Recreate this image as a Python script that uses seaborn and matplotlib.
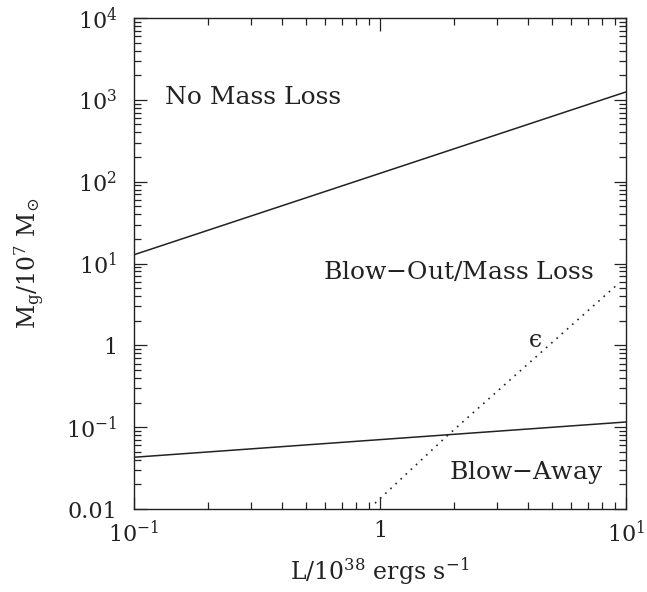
import numpy as np
import pandas as pd
import matplotlib
matplotlib.use("Agg")
import matplotlib.pyplot as plt
import matplotlib.ticker as mticker
import seaborn as sns

# Boundary curves in the luminosity / gas-mass plane
lum_upper = [0.1, 10.0]
mass_upper = [12.8, 1250.0]          # no mass loss / blow-out boundary

lum_lower = [0.1, 10.0]
mass_lower = [0.043, 0.116]          # blow-out / blow-away boundary

lum_eps = [0.955, 1.87, 9.2]
mass_eps = [0.0118, 0.078, 5.5]      # epsilon curve (dotted)

x_ticks = [0.1, 1, 10]
x_tick_labels = [r"$10^{-1}$", "1", r"$10^{1}$"]
y_ticks = [0.01, 0.1, 1, 10, 100, 1000, 10000]
y_tick_labels = ["0.01", r"$10^{-1}$", "1", r"$10^{1}$", r"$10^{2}$", r"$10^{3}$", r"$10^{4}$"]

sns.set_style("ticks")
plt.rcParams["font.family"] = ["DejaVu Serif"]
plt.rcParams["mathtext.fontset"] = "dejavuserif"

ink = "#222222"

fig = plt.figure(figsize=(6.47, 5.92), dpi=100)
ax = fig.add_axes([0.207, 0.140, 0.7605, 0.8296])

df_upper = pd.DataFrame({"L": lum_upper, "M": mass_upper})
df_lower = pd.DataFrame({"L": lum_lower, "M": mass_lower})
df_eps = pd.DataFrame({"L": lum_eps, "M": mass_eps})

sns.lineplot(data=df_upper, x="L", y="M", ax=ax, color=ink, lw=1.1)
sns.lineplot(data=df_lower, x="L", y="M", ax=ax, color=ink, lw=1.1)
sns.lineplot(data=df_eps, x="L", y="M", ax=ax, color=ink, lw=1.2,
             linestyle=(0, (1, 3.2)))

ax.set_xscale("log")
ax.set_yscale("log")
ax.set_xlim(0.1, 10)
ax.set_ylim(0.01, 1e4)

ax.xaxis.set_major_locator(mticker.FixedLocator(x_ticks))
ax.xaxis.set_major_formatter(mticker.FixedFormatter(x_tick_labels))
ax.yaxis.set_major_locator(mticker.FixedLocator(y_ticks))
ax.yaxis.set_major_formatter(mticker.FixedFormatter(y_tick_labels))
ax.xaxis.set_minor_locator(mticker.LogLocator(base=10, subs=np.arange(2, 10)))
ax.yaxis.set_minor_locator(mticker.LogLocator(base=10, subs=np.arange(2, 10)))
ax.xaxis.set_minor_formatter(mticker.NullFormatter())
ax.yaxis.set_minor_formatter(mticker.NullFormatter())

ax.tick_params(which="both", direction="in", top=True, right=True,
               color=ink, width=0.9)
ax.tick_params(which="major", length=9, labelsize=16, labelcolor=ink)
ax.tick_params(axis="y", which="major", pad=12)
ax.tick_params(axis="x", which="major", pad=8)
ax.tick_params(which="minor", length=5)
for s in ax.spines.values():
    s.set_color(ink)
    s.set_linewidth(1.0)

ax.set_xlabel(r"L/10$^{38}$ ergs s$^{-1}$", fontsize=17, color=ink, labelpad=6)
ax.set_ylabel(r"M$_{\rm g}$/10$^{7}$ M$_{\odot}$", fontsize=17, color=ink, labelpad=14)

ax.text(0.1336, 1080, "No Mass Loss", fontsize=18, color=ink, va="center", ha="left")
ax.text(7.4, 7.85, r"Blow$-$Out/Mass Loss", fontsize=18, color=ink, va="center", ha="right")
ax.text(8.1, 0.0282, r"Blow$-$Away", fontsize=18, color=ink, va="center", ha="right")
ax.text(4.3, 1.16, "\u03f5", fontsize=17, color=ink, va="center", ha="center")

fig.savefig("out.png", dpi=100)
